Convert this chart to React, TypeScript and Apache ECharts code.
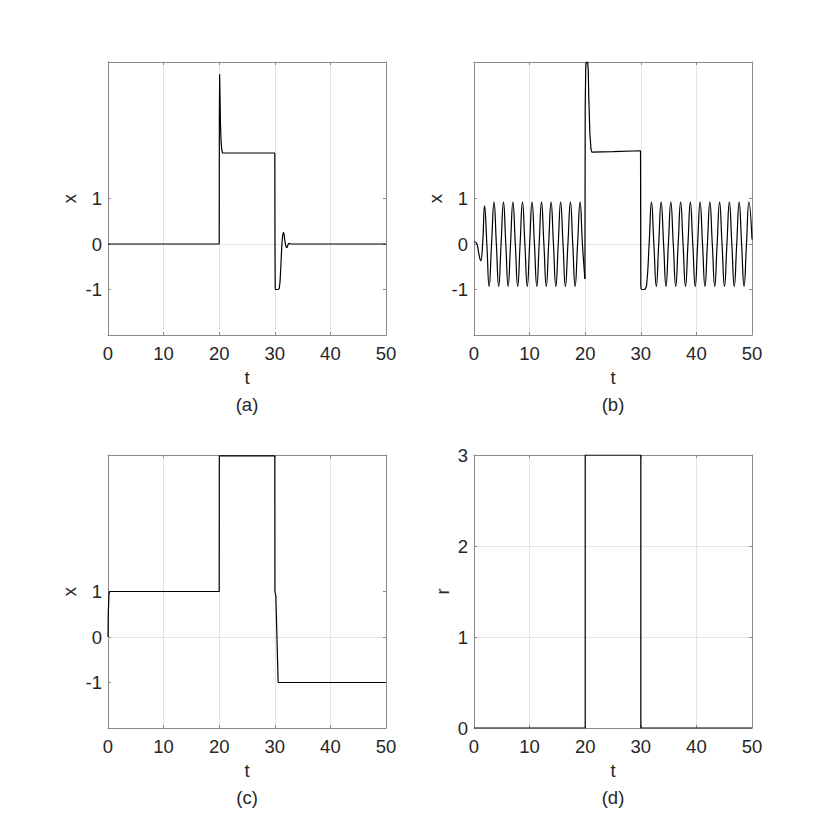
import React, { useEffect, useRef } from "react";
import * as echarts from "echarts";

// ---- data ----
const tTicks = [0, 10, 20, 30, 40, 50];
const xTickValues = [-1, 0, 1];
const rTickValues = [0, 1, 2, 3];
const captions = ["(a)", "(b)", "(c)", "(d)"];
const yNames = ["x", "x", "x", "r"];

// (a) step response with spike and damped tail
const aMain: [number, number][] = [
  [0, 0], [20.0, 0], [20.03, 2.8], [20.08, 3.73], [20.14, 3.3], [20.22, 2.7],
  [20.32, 2.3], [20.45, 2.08], [20.6, 2.0], [30.0, 2.0], [30.03, 0], [30.07, -0.97],
  [30.15, -1.0], [30.6, -1.0],
];
const aTail: [number, number][] = [
  [30.6, -1.0], [30.8, -0.97], [31.0, -0.7], [31.2, -0.2], [31.38, 0.15], [31.57, 0.25],
  [31.8, 0.08], [32.0, -0.05], [32.17, -0.08], [32.4, -0.01], [32.6, 0.015], [32.85, 0], [50, 0],
];

// (b) oscillation, jump, oscillation
const bOsc1: [number, number][] = [
  [0, 0.05], [0.45, 0.02], [0.85, -0.2], [1.2, -0.37], [1.55, 0], [1.9, 0.84],
  [2.31, 0], [2.72, -0.93], [3.16, 0], [3.6, 0.92], [4.02, 0], [4.44, -0.93],
  [4.87, 0], [5.3, 0.92], [5.72, 0], [6.14, -0.93], [6.57, 0], [7.0, 0.92],
  [7.43, 0], [7.86, -0.93], [8.29, 0], [8.72, 0.92], [9.15, 0], [9.58, -0.93],
  [10.01, 0], [10.44, 0.92], [10.87, 0], [11.3, -0.93], [11.72, 0], [12.14, 0.92],
  [12.57, 0], [13.0, -0.93], [13.43, 0], [13.86, 0.92], [14.29, 0], [14.72, -0.93],
  [15.15, 0], [15.58, 0.92], [16.01, 0], [16.44, -0.93], [16.89, 0], [17.34, 0.92],
  [17.76, 0], [18.18, -0.93], [18.63, 0], [19.08, 0.92], [19.5, 0], [19.95, -0.77],
];
const bJump: [number, number][] = [
  [19.95, -0.77], [20.0, 3.0], [20.1, 3.9], [20.2, 4.0], [20.45, 4.0], [20.55, 3.8],
  [20.65, 3.2], [20.85, 2.4], [21.05, 2.08], [21.2, 2.02], [25, 2.03], [29.95, 2.05],
  [30.0, -0.9], [30.05, -0.99], [30.3, -1.0], [30.7, -1.0],
];
const bOsc2: [number, number][] = [
  [30.7, -1.0], [31.05, -0.9], [31.5, 0], [31.92, 0.92], [32.35, 0], [32.79, -0.93],
  [33.22, 0], [33.66, 0.92], [34.1, 0], [34.53, -0.93], [34.96, 0], [35.4, 0.92],
  [35.84, 0], [36.28, -0.93], [36.72, 0], [37.16, 0.92], [37.6, 0], [38.04, -0.93],
  [38.48, 0], [38.91, 0.92], [39.35, 0], [39.79, -0.93], [40.22, 0], [40.66, 0.92],
  [41.1, 0], [41.54, -0.93], [41.98, 0], [42.42, 0.92], [42.86, 0], [43.3, -0.93],
  [43.73, 0], [44.17, 0.92], [44.61, 0], [45.05, -0.93], [45.49, 0], [45.93, 0.92],
  [46.37, 0], [46.81, -0.93], [47.25, 0], [47.69, 0.92], [48.13, 0], [48.57, -0.93],
  [49.01, 0], [49.45, 0.92], [50, 0.1],
];

// (c) tracking response
const cMain: [number, number][] = [
  [0, 0.0], [0.05, 0.5], [0.18, 0.95], [0.3, 1.0], [20.0, 1.0], [20.02, 3.98],
  [30.0, 3.98], [30.02, 1.0], [30.19, 0.9], [30.6, -1.0], [50, -1.0],
];

// (d) reference signal r
const dMain: [number, number][] = [
  [0, 0], [20, 0], [20, 3], [30, 3], [30, 0], [50, 0],
];

// ---- layout / style ----
const grids = [
  { left: 108, top: 62 },
  { left: 474, top: 62 },
  { left: 108, top: 455 },
  { left: 474, top: 455 },
];
const GW = 278;
const GH = 273;
const FONT = "Liberation Sans, Arial, Helvetica, sans-serif";
const TXT = "#262626";
const AXIS = "#8a8a8a";
const GRIDC = "#e4e4e4";
const FS = 18.5;

export default function App() {
  const ref = useRef<HTMLDivElement>(null);
  useEffect(() => {
    if (!ref.current) return;
    const chart = echarts.init(ref.current, undefined, { renderer: "svg" });

    const xAxes: any[] = [];
    const yAxes: any[] = [];
    grids.forEach((g, i) => {
      const common = {
        type: "value",
        gridIndex: i,
        min: 0,
        max: 50,
        interval: 10,
        axisLine: { show: true, onZero: false, lineStyle: { color: AXIS, width: 1 } },
        axisTick: { show: true, inside: true, length: 3, lineStyle: { color: AXIS } },
      };
      xAxes.push({
        ...common,
        position: "bottom",
        axisLabel: { show: true, color: TXT, fontSize: FS, fontFamily: FONT, margin: 9, showMinLabel: true, showMaxLabel: true },
        splitLine: { show: true, showMinLine: false, showMaxLine: false, lineStyle: { color: GRIDC, width: 1 } },
      });
      xAxes.push({
        ...common,
        position: "top",
        axisLabel: { show: false },
        splitLine: { show: false },
      });
      const isR = i === 3;
      const vals = isR ? rTickValues : xTickValues;
      const ycommon = {
        type: "value",
        gridIndex: i,
        min: isR ? 0 : -2,
        max: isR ? 3 : 4,
        interval: 1,
        axisLine: { show: true, onZero: false, lineStyle: { color: AXIS, width: 1 } },
        axisTick: { show: true, inside: true, length: 3, lineStyle: { color: AXIS }, customValues: vals },
      };
      yAxes.push({
        ...ycommon,
        position: "left",
        axisLabel: { show: true, color: TXT, fontSize: FS, fontFamily: FONT, margin: 6, customValues: vals, showMinLabel: true, showMaxLabel: true },
        splitLine: { show: true, showMinLine: false, showMaxLine: false, lineStyle: { color: GRIDC, width: 1 } },
      });
      yAxes.push({
        ...ycommon,
        position: "right",
        axisLabel: { show: false },
        splitLine: { show: false },
      });
    });

    const mk = (data: [number, number][], gi: number, smooth: boolean | number) => ({
      type: "line",
      xAxisIndex: gi * 2,
      yAxisIndex: gi * 2,
      data,
      smooth,
      symbol: "none",
      showSymbol: false,
      clip: true,
      z: 5,
      lineStyle: { color: "#000", width: 1.2 },
      emphasis: { disabled: true },
    });

    const series = [
      mk(aMain, 0, false),
      mk(aTail, 0, 0.5),
      mk(bOsc1, 1, 0.5),
      mk(bJump, 1, false),
      mk(bOsc2, 1, 0.5),
      mk(cMain, 2, false),
      mk(dMain, 3, false),
    ];

    const graphics: any[] = [];
    grids.forEach((g, i) => {
      const cx = g.left + GW / 2;
      const rowOff = g.top - 62;
      graphics.push({
        type: "text",
        x: cx,
        y: 377 + rowOff,
        style: { text: "t", fill: TXT, font: `${FS}px ${FONT}`, align: "center", verticalAlign: "middle" },
      });
      graphics.push({
        type: "text",
        x: cx,
        y: 404 + rowOff,
        style: { text: captions[i], fill: TXT, font: `${FS}px ${FONT}`, align: "center", verticalAlign: "middle" },
      });
      graphics.push({
        type: "text",
        x: g.left - (i === 3 ? 32 : 39),
        y: g.top + GH / 2,
        rotation: Math.PI / 2,
        style: { text: yNames[i], fill: TXT, font: `${FS}px ${FONT}`, align: "center", verticalAlign: "middle" },
      });
    });

    chart.setOption({
      animation: false,
      backgroundColor: "#fff",
      grid: grids.map((g) => ({
        left: g.left,
        top: g.top,
        width: GW,
        height: GH,
        containLabel: false,
        outerBoundsMode: "none",
      })),
      xAxis: xAxes,
      yAxis: yAxes,
      series,
      graphic: graphics,
    });
    return () => chart.dispose();
  }, []);
  return (
    <div
      ref={ref}
      style={{ position: "absolute", left: 0, top: 0, width: 830, height: 830 }}
    />
  );
}
